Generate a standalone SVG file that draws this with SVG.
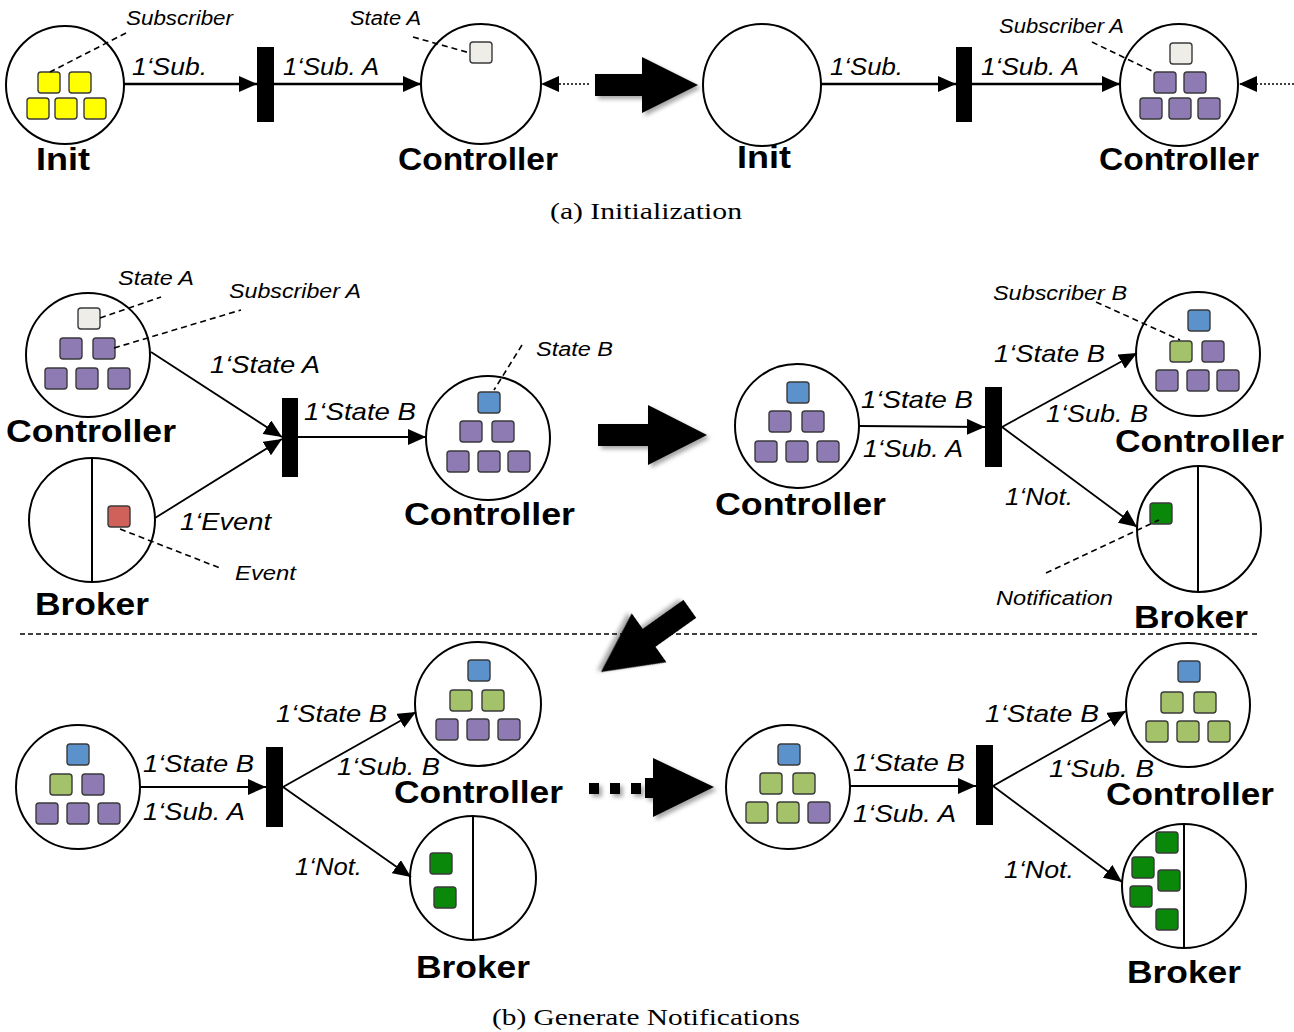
<svg xmlns="http://www.w3.org/2000/svg" xmlns:xlink="http://www.w3.org/1999/xlink" width="1294" height="1032" viewBox="0 0 1294 1032">
  <style>
    .place { fill: #fff; stroke: #000; stroke-width: 2; }
    .arc { fill: none; stroke: #000; stroke-width: 1.8; marker-end: url(#ah); }
    .arc.thick { stroke-width: 2.4; }
    .feed { fill: none; stroke: #000; stroke-width: 1.4; stroke-dasharray: 2 2; marker-end: url(#ah); }
    .lead { fill: none; stroke: #000; stroke-width: 1.6; stroke-dasharray: 6 4; }
    .sep { fill: none; stroke: #000; stroke-width: 1.5; stroke-dasharray: 5 3; }
    .bar { fill: #000; }
    .big { fill: #000; filter: url(#soft); }
    .tk { stroke: #3a3a3a; stroke-width: 1.4; }
    .yel { fill: #ffff00; }
    .gry { fill: #eeede7; }
    .pur { fill: #8e7bb4; }
    .blu { fill: #5b92cc; }
    .lgr { fill: #a4c26a; }
    .dgr { fill: #0a880a; }
    .red { fill: #d0605a; }
    text { font-family: "Liberation Sans", Arial, sans-serif; fill: #000; }
    .name { font-weight: bold; font-size: 32px; }
    .inscr { font-style: italic; font-size: 24px; }
    .note { font-style: italic; font-size: 20px; }
    .cap { font-family: "Liberation Serif", "Times New Roman", serif; font-size: 23px; }
  </style>
  <defs>
    <marker id="ah" markerUnits="userSpaceOnUse" markerWidth="18" markerHeight="16" refX="18" refY="8" orient="auto">
      <path d="M0,0 L18,8 L0,16 Z" fill="#000"/>
    </marker>
    <filter id="soft" x="-20%" y="-20%" width="150%" height="150%">
      <feDropShadow dx="3" dy="3" stdDeviation="2" flood-color="#000" flood-opacity="0.35"/>
    </filter>
    <rect id="tok" width="22" height="21" rx="3"/>
    <polygon id="bigArrow" points="-109,-11 -59,-11 -59,-30 0,0 -59,30 -59,11 -109,11"/>
  </defs>

  <!-- ===== (a) Initialization ===== -->
  <g id="a-init1">
    <ellipse class="place" cx="65" cy="85" rx="59" ry="59"/>
    <g class="tk yel">
      <use xlink:href="#tok" x="38" y="72"/>
      <use xlink:href="#tok" x="69" y="72"/>
      <use xlink:href="#tok" x="27" y="98"/>
      <use xlink:href="#tok" x="55" y="98"/>
      <use xlink:href="#tok" x="84" y="98"/>
    </g>
    <line class="lead" x1="126" y1="33" x2="50" y2="72"/>
    <text class="note" x="126" y="25" textLength="107" lengthAdjust="spacingAndGlyphs">Subscriber</text>
    <text class="name" x="36" y="170" textLength="54" lengthAdjust="spacingAndGlyphs">Init</text>
  </g>
  <g id="a-t1"><rect class="bar" x="257" y="47" width="17" height="75"/></g>
  <g id="a-ctrl1">
    <ellipse class="place" cx="481" cy="84" rx="60" ry="60"/>
    <use class="tk gry" xlink:href="#tok" x="470" y="42"/>
    <line class="lead" x1="413" y1="37" x2="470" y2="53"/>
    <text class="note" x="350" y="25" textLength="71" lengthAdjust="spacingAndGlyphs">State A</text>
    <text class="name" x="398" y="170" textLength="160" lengthAdjust="spacingAndGlyphs">Controller</text>
  </g>
  <g id="a-init2">
    <ellipse class="place" cx="762" cy="85" rx="59" ry="61"/>
    <text class="name" x="737" y="168" textLength="54" lengthAdjust="spacingAndGlyphs">Init</text>
  </g>
  <g id="a-t2"><rect class="bar" x="956" y="47" width="16" height="75"/></g>
  <g id="a-ctrl2">
    <ellipse class="place" cx="1179" cy="85" rx="59" ry="61"/>
    <use class="tk gry" xlink:href="#tok" x="1170" y="43"/>
    <g class="tk pur">
      <use xlink:href="#tok" x="1154" y="72"/>
      <use xlink:href="#tok" x="1184" y="72"/>
      <use xlink:href="#tok" x="1140" y="98"/>
      <use xlink:href="#tok" x="1169" y="98"/>
      <use xlink:href="#tok" x="1198" y="98"/>
    </g>
    <line class="lead" x1="1092" y1="42" x2="1152" y2="71"/>
    <text class="note" x="999" y="33" textLength="125" lengthAdjust="spacingAndGlyphs">Subscriber A</text>
    <text class="name" x="1099" y="170" textLength="160" lengthAdjust="spacingAndGlyphs">Controller</text>
  </g>

  <!-- ===== (b) Generate Notifications: first firing ===== -->
  <g id="b-ctrlA">
    <ellipse class="place" cx="88" cy="355" rx="62" ry="62"/>
    <use class="tk gry" xlink:href="#tok" x="78" y="308" height="22"/>
    <g class="tk pur">
      <use xlink:href="#tok" x="60" y="338"/>
      <use xlink:href="#tok" x="93" y="338"/>
      <use xlink:href="#tok" x="45" y="368"/>
      <use xlink:href="#tok" x="76" y="368"/>
      <use xlink:href="#tok" x="108" y="368"/>
    </g>
    <line class="lead" x1="100" y1="318" x2="161" y2="297"/>
    <line class="lead" x1="114" y1="348" x2="241" y2="310"/>
    <text class="note" x="118" y="285" textLength="76" lengthAdjust="spacingAndGlyphs">State A</text>
    <text class="note" x="229" y="298" textLength="132" lengthAdjust="spacingAndGlyphs">Subscriber A</text>
    <text class="name" x="6" y="442" textLength="170" lengthAdjust="spacingAndGlyphs">Controller</text>
  </g>
  <g id="b-brokerA">
    <ellipse class="place" cx="92" cy="520" rx="63" ry="62"/>
    <line x1="92" y1="458" x2="92" y2="582" stroke="#000" stroke-width="2"/>
    <use class="tk red" xlink:href="#tok" x="108" y="506"/>
    <line class="lead" x1="120" y1="529" x2="220" y2="568"/>
    <text class="note" x="235" y="580" textLength="61" lengthAdjust="spacingAndGlyphs">Event</text>
    <text class="name" x="35" y="615" textLength="114" lengthAdjust="spacingAndGlyphs">Broker</text>
  </g>
  <g id="b-t1"><rect class="bar" x="282" y="398" width="16" height="79"/></g>
  <g id="b-ctrlB">
    <ellipse class="place" cx="488" cy="438" rx="62" ry="62"/>
    <use class="tk blu" xlink:href="#tok" x="478" y="392"/>
    <g class="tk pur">
      <use xlink:href="#tok" x="460" y="421"/>
      <use xlink:href="#tok" x="492" y="421"/>
      <use xlink:href="#tok" x="447" y="451"/>
      <use xlink:href="#tok" x="478" y="451"/>
      <use xlink:href="#tok" x="508" y="451"/>
    </g>
    <line class="lead" x1="522" y1="345" x2="494" y2="390"/>
    <text class="note" x="536" y="356" textLength="77" lengthAdjust="spacingAndGlyphs">State B</text>
    <text class="name" x="404" y="525" textLength="171" lengthAdjust="spacingAndGlyphs">Controller</text>
  </g>

  <!-- ===== second firing ===== -->
  <g id="b-ctrlC">
    <ellipse class="place" cx="797" cy="426" rx="62" ry="62"/>
    <use class="tk blu" xlink:href="#tok" x="787" y="382"/>
    <g class="tk pur">
      <use xlink:href="#tok" x="769" y="411"/>
      <use xlink:href="#tok" x="802" y="411"/>
      <use xlink:href="#tok" x="755" y="441"/>
      <use xlink:href="#tok" x="786" y="441"/>
      <use xlink:href="#tok" x="817" y="441"/>
    </g>
    <text class="name" x="715" y="515" textLength="171" lengthAdjust="spacingAndGlyphs">Controller</text>
  </g>
  <g id="b-t2"><rect class="bar" x="985" y="387" width="17" height="80"/></g>
  <g id="b-ctrlD">
    <ellipse class="place" cx="1198" cy="354" rx="62" ry="62"/>
    <use class="tk blu" xlink:href="#tok" x="1188" y="310"/>
    <use class="tk lgr" xlink:href="#tok" x="1170" y="341"/>
    <g class="tk pur">
      <use xlink:href="#tok" x="1202" y="341"/>
      <use xlink:href="#tok" x="1156" y="370"/>
      <use xlink:href="#tok" x="1187" y="370"/>
      <use xlink:href="#tok" x="1217" y="370"/>
    </g>
    <line class="lead" x1="1096" y1="302" x2="1180" y2="340"/>
    <text class="note" x="993" y="300" textLength="134" lengthAdjust="spacingAndGlyphs">Subscriber B</text>
    <text class="name" x="1115" y="452" textLength="169" lengthAdjust="spacingAndGlyphs">Controller</text>
  </g>
  <g id="b-brokerD">
    <ellipse class="place" cx="1199" cy="529" rx="62" ry="63"/>
    <line x1="1198" y1="466" x2="1198" y2="592" stroke="#000" stroke-width="2"/>
    <use class="tk dgr" xlink:href="#tok" x="1150" y="503"/>
    <line class="lead" x1="1046" y1="573" x2="1159" y2="520"/>
    <text class="note" x="996" y="605" textLength="117" lengthAdjust="spacingAndGlyphs">Notification</text>
    <text class="name" x="1134" y="628" textLength="114" lengthAdjust="spacingAndGlyphs">Broker</text>
  </g>

  <!-- ===== third firing ===== -->
  <g id="b-ctrlE">
    <ellipse class="place" cx="78" cy="787" rx="62" ry="62"/>
    <use class="tk blu" xlink:href="#tok" x="67" y="744"/>
    <use class="tk lgr" xlink:href="#tok" x="50" y="774"/>
    <g class="tk pur">
      <use xlink:href="#tok" x="82" y="774"/>
      <use xlink:href="#tok" x="36" y="803"/>
      <use xlink:href="#tok" x="67" y="803"/>
      <use xlink:href="#tok" x="98" y="803"/>
    </g>
  </g>
  <g id="b-t3"><rect class="bar" x="266" y="747" width="17" height="80"/></g>
  <g id="b-ctrlF">
    <ellipse class="place" cx="478" cy="704" rx="63" ry="62"/>
    <use class="tk blu" xlink:href="#tok" x="468" y="660"/>
    <g class="tk lgr">
      <use xlink:href="#tok" x="450" y="690"/>
      <use xlink:href="#tok" x="482" y="690"/>
    </g>
    <g class="tk pur">
      <use xlink:href="#tok" x="436" y="719"/>
      <use xlink:href="#tok" x="467" y="719"/>
      <use xlink:href="#tok" x="498" y="719"/>
    </g>
    <text class="name" x="394" y="803" textLength="169" lengthAdjust="spacingAndGlyphs">Controller</text>
  </g>
  <g id="b-brokerF">
    <ellipse class="place" cx="473" cy="878" rx="63" ry="62"/>
    <line x1="473" y1="816" x2="473" y2="940" stroke="#000" stroke-width="2"/>
    <g class="tk dgr">
      <use xlink:href="#tok" x="430" y="853"/>
      <use xlink:href="#tok" x="434" y="887"/>
    </g>
    <text class="name" x="416" y="978" textLength="114" lengthAdjust="spacingAndGlyphs">Broker</text>
  </g>

  <!-- ===== last firing ===== -->
  <g id="b-ctrlG">
    <ellipse class="place" cx="788" cy="787" rx="62" ry="62"/>
    <use class="tk blu" xlink:href="#tok" x="778" y="744"/>
    <g class="tk lgr">
      <use xlink:href="#tok" x="760" y="773"/>
      <use xlink:href="#tok" x="793" y="773"/>
      <use xlink:href="#tok" x="746" y="802"/>
      <use xlink:href="#tok" x="777" y="802"/>
    </g>
    <use class="tk pur" xlink:href="#tok" x="808" y="802"/>
  </g>
  <g id="b-t4"><rect class="bar" x="976" y="745" width="17" height="80"/></g>
  <g id="b-ctrlH">
    <ellipse class="place" cx="1188" cy="705" rx="62" ry="62"/>
    <use class="tk blu" xlink:href="#tok" x="1178" y="661"/>
    <g class="tk lgr">
      <use xlink:href="#tok" x="1161" y="692"/>
      <use xlink:href="#tok" x="1194" y="692"/>
      <use xlink:href="#tok" x="1146" y="721"/>
      <use xlink:href="#tok" x="1177" y="721"/>
      <use xlink:href="#tok" x="1208" y="721"/>
    </g>
    <text class="name" x="1106" y="805" textLength="168" lengthAdjust="spacingAndGlyphs">Controller</text>
  </g>
  <g id="b-brokerH">
    <ellipse class="place" cx="1184" cy="886" rx="62" ry="62"/>
    <line x1="1184" y1="824" x2="1184" y2="948" stroke="#000" stroke-width="2"/>
    <g class="tk dgr">
      <use xlink:href="#tok" x="1156" y="832"/>
      <use xlink:href="#tok" x="1132" y="857"/>
      <use xlink:href="#tok" x="1158" y="870"/>
      <use xlink:href="#tok" x="1130" y="886"/>
      <use xlink:href="#tok" x="1156" y="909"/>
    </g>
    <text class="name" x="1127" y="983" textLength="114" lengthAdjust="spacingAndGlyphs">Broker</text>
  </g>

  <!-- ===== arcs and step arrows ===== -->
  <g id="connectors">
    <!-- (a) -->
    <line class="arc thick" x1="124" y1="84" x2="257" y2="84"/>
    <line class="arc thick" x1="274" y1="84" x2="421" y2="84"/>
    <line class="feed" x1="589" y1="84" x2="541" y2="84"/>
    <line class="arc thick" x1="821" y1="84" x2="956" y2="84"/>
    <line class="arc thick" x1="972" y1="84" x2="1120" y2="84"/>
    <line class="feed" x1="1294" y1="84" x2="1239" y2="84"/>
    <text class="inscr" x="132" y="75" textLength="75" lengthAdjust="spacingAndGlyphs">1‘Sub.</text>
    <text class="inscr" x="283" y="75" textLength="96" lengthAdjust="spacingAndGlyphs">1‘Sub. A</text>
    <text class="inscr" x="830" y="75" textLength="73" lengthAdjust="spacingAndGlyphs">1‘Sub.</text>
    <text class="inscr" x="981" y="75" textLength="98" lengthAdjust="spacingAndGlyphs">1‘Sub. A</text>
    <polygon class="big" points="595,74 642,74 642,57 698,85 642,113 642,96 595,96"/>

    <!-- (b) first firing -->
    <line class="arc" x1="151" y1="352" x2="282" y2="437"/>
    <line class="arc" x1="155" y1="518" x2="282" y2="439"/>
    <line class="arc" x1="298" y1="437" x2="426" y2="437"/>
    <text class="inscr" x="210" y="373" textLength="110" lengthAdjust="spacingAndGlyphs">1‘State A</text>
    <text class="inscr" x="180" y="530" textLength="91" lengthAdjust="spacingAndGlyphs">1‘Event</text>
    <text class="inscr" x="304" y="420" textLength="112" lengthAdjust="spacingAndGlyphs">1‘State B</text>
    <polygon class="big" points="598,424 648,424 648,405 707,435 648,465 648,446 598,446"/>

    <!-- second firing -->
    <line class="arc" x1="859" y1="426" x2="985" y2="427"/>
    <line class="arc" x1="1002" y1="427" x2="1137" y2="353"/>
    <line class="arc" x1="1002" y1="427" x2="1137" y2="527"/>
    <text class="inscr" x="861" y="408" textLength="112" lengthAdjust="spacingAndGlyphs">1‘State B</text>
    <text class="inscr" x="863" y="457" textLength="100" lengthAdjust="spacingAndGlyphs">1‘Sub. A</text>
    <text class="inscr" x="994" y="362" textLength="111" lengthAdjust="spacingAndGlyphs">1‘State B</text>
    <text class="inscr" x="1046" y="422" textLength="102" lengthAdjust="spacingAndGlyphs">1‘Sub. B</text>
    <text class="inscr" x="1005" y="505" textLength="68" lengthAdjust="spacingAndGlyphs">1‘Not.</text>

    <line class="sep" x1="20" y1="634" x2="1257" y2="634"/>
    <use class="big" xlink:href="#bigArrow" transform="translate(601,672) rotate(144.6)"/>

    <!-- third firing -->
    <line class="arc" x1="140" y1="787" x2="266" y2="787"/>
    <line class="arc" x1="283" y1="787" x2="416" y2="712"/>
    <line class="arc" x1="283" y1="787" x2="411" y2="877"/>
    <text class="inscr" x="143" y="772" textLength="111" lengthAdjust="spacingAndGlyphs">1‘State B</text>
    <text class="inscr" x="143" y="820" textLength="102" lengthAdjust="spacingAndGlyphs">1‘Sub. A</text>
    <text class="inscr" x="276" y="722" textLength="111" lengthAdjust="spacingAndGlyphs">1‘State B</text>
    <text class="inscr" x="337" y="775" textLength="103" lengthAdjust="spacingAndGlyphs">1‘Sub. B</text>
    <text class="inscr" x="295" y="875" textLength="67" lengthAdjust="spacingAndGlyphs">1‘Not.</text>

    <!-- dotted step arrow -->
    <g class="big">
      <rect x="589" y="783" width="10" height="11"/>
      <rect x="610" y="783" width="10" height="11"/>
      <rect x="631" y="783" width="10" height="11"/>
      <rect x="645" y="778" width="10" height="20"/>
      <polygon points="653,758 714,787 653,817"/>
    </g>

    <!-- last firing -->
    <line class="arc" x1="850" y1="786" x2="976" y2="786"/>
    <line class="arc" x1="993" y1="786" x2="1126" y2="711"/>
    <line class="arc" x1="993" y1="786" x2="1122" y2="882"/>
    <text class="inscr" x="853" y="771" textLength="112" lengthAdjust="spacingAndGlyphs">1‘State B</text>
    <text class="inscr" x="853" y="822" textLength="103" lengthAdjust="spacingAndGlyphs">1‘Sub. A</text>
    <text class="inscr" x="985" y="722" textLength="114" lengthAdjust="spacingAndGlyphs">1‘State B</text>
    <text class="inscr" x="1049" y="777" textLength="105" lengthAdjust="spacingAndGlyphs">1‘Sub. B</text>
    <text class="inscr" x="1004" y="878" textLength="70" lengthAdjust="spacingAndGlyphs">1‘Not.</text>
  </g>

  <!-- captions -->
  <text class="cap" x="550" y="219" textLength="192" lengthAdjust="spacingAndGlyphs">(a)  Initialization</text>
  <text class="cap" x="492" y="1025" textLength="308" lengthAdjust="spacingAndGlyphs">(b)  Generate Notifications</text>
</svg>
